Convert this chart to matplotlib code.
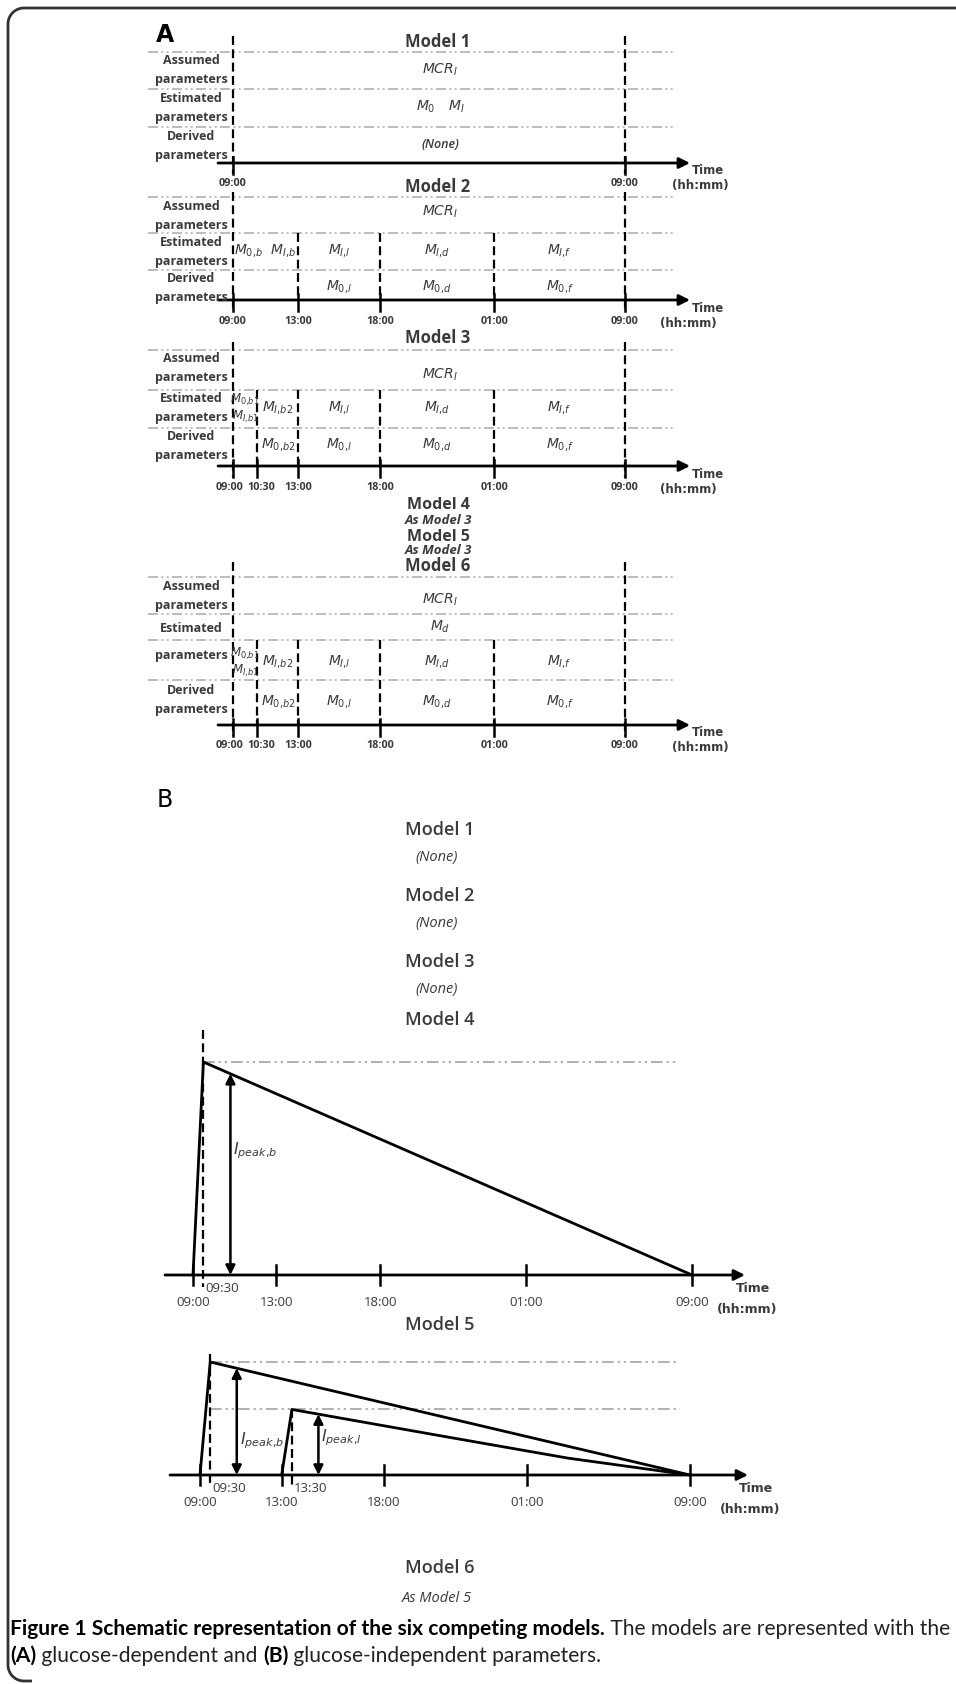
import numpy as np
import matplotlib.pyplot as plt

plt.rcParams['mathtext.fontset'] = 'dejavusans'

W, H = 956, 1684

# ---------------- data ----------------
# panel A: time axis (hours after 09:00) and labels
hoursA = [0, 1.5, 4, 9, 16, 24]
labelsA = ['09:00', '10:30', '13:00', '18:00', '01:00', '09:00']
model1_cuts = [0, 24]
model2_cuts = [0, 4, 9, 16, 24]
model3_cuts = [0, 1.5, 4, 9, 16, 24]

assumed_txt = r'$MCR_I$'
model1_est = r'$M_0\ \ \ M_I$'
model1_der = '(None)'
model2_est = [r'$M_{0{,}b}\ \ M_{I{,}b}$', r'$M_{I{,}l}$', r'$M_{I{,}d}$', r'$M_{I{,}f}$']
model2_der = ['', r'$M_{0{,}l}$', r'$M_{0{,}d}$', r'$M_{0{,}f}$']
model3_first = [r'$M_{0{,}b1}$', r'$M_{I{,}b1}$']
model3_est = [r'$M_{I{,}b2}$', r'$M_{I{,}l}$', r'$M_{I{,}d}$', r'$M_{I{,}f}$']
model3_der = [r'$M_{0{,}b2}$', r'$M_{0{,}l}$', r'$M_{0{,}d}$', r'$M_{0{,}f}$']
model6_extra = r'$M_d$'

# panel B: insulin profiles (relative to breakfast peak)
hoursB = [0, 4, 9, 16, 24]
labelsB = ['09:00', '13:00', '18:00', '01:00', '09:00']
model4_t = [0, 0.5, 24]
model4_i = [0, 1.0, 0]
model5_bt = [0, 0.5, 24]
model5_bi = [0, 1.0, 0]
model5_lt = [4, 4.5, 12, 18, 24]
model5_li = [0, 0.58, 0.34, 0.15, 0]
peak_b_time = 1.8
peak_l_time = 5.8

TXT = '#3a3a3a'
GRAY = '#b0b0b0'
DASH = (0, (4, 2))
DASHDOT = (0, (6, 2, 1.2, 2, 1.2, 2))

fig = plt.figure(figsize=(W / 100, H / 100), dpi=100)
ax = fig.add_axes([0, 0, 1, 1])
ax.set_xlim(0, W)
ax.set_ylim(H, 0)
ax.axis('off')

# frame: top and left edges with rounded corners
r = 16
a = np.linspace(np.pi / 2, np.pi, 20)
fx = np.concatenate([[W + 5], 8 + r + r * np.cos(a), 8 + r + r * np.cos(a[::-1]), [8 + r + 8]])
fy = np.concatenate([[8], 8 + r - r * np.sin(a), H - 3 - r + r * np.sin(a[::-1]), [H - 3]])
ax.plot(fx, fy, color='#333333', lw=2, clip_on=False, solid_capstyle='butt')


def arrow_axis(y, xa, xb, lw=2):
    ax.annotate('', xy=(xb, y), xytext=(xa, y),
                arrowprops=dict(arrowstyle='-|>', lw=lw, color='black',
                                mutation_scale=16, shrinkA=0, shrinkB=0))


def ptext(x, y, s, size=10, **kw):
    ax.text(x, y, s, fontsize=size, color=TXT, ha='center', va='center',
            style='italic', **kw)


def spread(xs, gap):
    # push neighbouring tick labels apart when they would touch
    xs = list(xs)
    for i in range(1, len(xs)):
        d = gap - (xs[i] - xs[i - 1])
        if d > 0:
            xs[i - 1] -= d / 2
            xs[i] += d / 2
    return xs


def panelA_block(title, ytitle, lines, yaxis, cuts, inner_top, ytop, hh_dx=0):
    x0, x1 = 233, 625
    sx = lambda h: x0 + (x1 - x0) * h / 24
    ax.text(438, ytitle, title, fontsize=12, fontweight='bold', color=TXT,
            ha='center', va='center', family='Open Sans')
    for y in lines:
        ax.plot([148, 676], [y, y], color=GRAY, lw=1.2, ls=DASHDOT)
    for h in [0, 24]:
        ax.plot([sx(h), sx(h)], [ytop, yaxis + 11], color='black', lw=1.6, ls=DASH)
    for h in cuts[1:-1]:
        ax.plot([sx(h), sx(h)], [inner_top, yaxis], color='black', lw=1.6, ls=DASH)
    lab_x = spread([sx(h) for h in cuts], 31)
    for h, lx in zip(cuts, lab_x):
        ax.plot([sx(h), sx(h)], [yaxis - 6, yaxis + 11], color='black', lw=1.8)
        ax.text(lx, yaxis + 21, labelsA[hoursA.index(h)], fontsize=7.8,
                fontweight='bold', color=TXT, ha='center', va='center',
                family='Open Sans')
    arrow_axis(yaxis, 218, 690)
    ax.text(708, yaxis + 8, 'Time', fontsize=8.5, fontweight='bold', color=TXT,
            ha='center', va='center')
    ax.text(700 + hh_dx, yaxis + 23, '(hh:mm)', fontsize=8.5, fontweight='bold',
            color=TXT, ha='center', va='center')
    return sx


def row_labels(pairs):
    for s, y in pairs:
        ax.text(191, y, s, fontsize=9, fontweight='bold', color=TXT,
                ha='center', va='center', family='Open Sans')


ax.text(165, 35, 'A', fontsize=17, fontweight='bold', ha='center', va='center')

# Model 1
sx = panelA_block('Model 1', 42, [52, 89, 127], 163, model1_cuts, 89, 36)
row_labels([('Assumed', 61), ('parameters', 80), ('Estimated', 98), ('parameters', 117),
            ('Derived', 136), ('parameters', 155)])
ptext(440, 70, assumed_txt)
ptext(440, 107, model1_est)
ptext(440, 145, model1_der, size=9, fontweight='semibold', family='Open Sans')

# Model 2
sx = panelA_block('Model 2', 187, [197, 233, 270], 300, model2_cuts, 233, 192, hh_dx=-12)
row_labels([('Assumed', 206), ('parameters', 225), ('Estimated', 242), ('parameters', 261),
            ('Derived', 279), ('parameters', 298)])
ptext(440, 212, assumed_txt)
for i in range(4):
    xm = sx((model2_cuts[i] + model2_cuts[i + 1]) / 2)
    ptext(xm, 251, model2_est[i])
    if model2_der[i]:
        ptext(xm, 287, model2_der[i])


def model3_rows(sx, yest, yder, yfirst):
    ptext(sx(0.75), yfirst[0], model3_first[0], size=8.5)
    ptext(sx(0.75), yfirst[1], model3_first[1], size=8.5)
    for i in range(4):
        xm = sx((model3_cuts[i + 1] + model3_cuts[i + 2]) / 2)
        ptext(xm, yest, model3_est[i])
        ptext(xm, yder, model3_der[i])


# Model 3
sx = panelA_block('Model 3', 338, [350, 390, 428], 466, model3_cuts, 390, 342, hh_dx=-12)
row_labels([('Assumed', 359), ('parameters', 378), ('Estimated', 399), ('parameters', 418),
            ('Derived', 437), ('parameters', 456)])
ptext(440, 375, assumed_txt)
model3_rows(sx, 408, 445, (400, 417))

for s, y, w in [('Model 4', 505, 'b'), ('As Model 3', 520, 'i'),
                ('Model 5', 537, 'b'), ('As Model 3', 551, 'i')]:
    if w == 'b':
        ax.text(438, y, s, fontsize=11.5, fontweight='bold', color=TXT, ha='center',
                va='center', family='Open Sans')
    else:
        ax.text(438, y, s, fontsize=9.5, fontweight='bold', style='italic', color=TXT,
                ha='center', va='center', family='Open Sans')

# Model 6
sx = panelA_block('Model 6', 566, [577, 614, 640, 680], 725, model3_cuts, 640, 562)
row_labels([('Assumed', 586), ('parameters', 605), ('Estimated', 628), ('parameters', 656),
            ('Derived', 690), ('parameters', 709)])
ptext(440, 600, assumed_txt)
ptext(440, 627, model6_extra)
model3_rows(sx, 661, 701, (654, 671))

# ---------------- panel B ----------------
ax.text(165, 800, 'B', fontsize=17, ha='center', va='center')
for s, y, w in [('Model 1', 830, 'b'), ('(None)', 858, 'i'), ('Model 2', 896, 'b'),
                ('(None)', 924, 'i'), ('Model 3', 962, 'b'), ('(None)', 990, 'i'),
                ('Model 4', 1020, 'b'), ('Model 5', 1325, 'b'), ('Model 6', 1568, 'b'),
                ('As Model 5', 1598, 'i')]:
    if w == 'b':
        ax.text(440, y, s, fontsize=13, fontweight='semibold', color=TXT, ha='center',
                va='center', family='Open Sans')
    else:
        ax.text(437, y, s, fontsize=10.5, style='italic', fontweight='medium', color=TXT,
                ha='center', va='center', family='Open Sans')


def panelB_block(yaxis, x0, x1, amp, xa, xb):
    sx = lambda h: x0 + (x1 - x0) * h / 24
    sy = lambda v: yaxis - amp * v
    arrow_axis(yaxis, xa, xb)
    for h, lab in zip(hoursB, labelsB):
        ax.plot([sx(h), sx(h)], [yaxis - 10, yaxis + 10], color='black', lw=1.8)
        ax.text(sx(h), yaxis + 27, lab, fontsize=9.5, color=TXT, ha='center',
                va='center', family='Open Sans')
    ax.text(xb + 8, yaxis + 13, 'Time', fontsize=9, fontweight='bold', color=TXT,
            ha='center', va='center')
    ax.text(xb + 2, yaxis + 34, '(hh:mm)', fontsize=9, fontweight='bold', color=TXT,
            ha='center', va='center')
    return sx, sy


def peak_arrow(sx, sy, t, t_curve, v_curve, label, yaxis, frac):
    # value of the decaying line at time t
    v = np.interp(t, t_curve, v_curve)
    ax.annotate('', xy=(sx(t), sy(v)), xytext=(sx(t), yaxis),
                arrowprops=dict(arrowstyle='<|-|>', lw=1.8, color='black',
                                mutation_scale=14, shrinkA=0, shrinkB=0))
    ax.text(sx(t) + 3, sy(v) + frac * (yaxis - sy(v)), label, fontsize=11.5,
            style='italic', color=TXT, ha='left', va='center')


def dashed_peak(sx, t, ytop, yaxis, lab):
    ax.plot([sx(t), sx(t)], [ytop, yaxis + 12], color='black', lw=1.6, ls=DASH)
    ax.text(sx(t) + 2, yaxis + 13, lab, fontsize=9.5, color=TXT, ha='left',
            va='center', family='Open Sans')


# Model 4
ya4 = 1275
sx, sy = panelB_block(ya4, 193, 692, 213, 165, 745)
ax.plot([sx(0.5), 676], [sy(1), sy(1)], color=GRAY, lw=1.4, ls=DASHDOT)
dashed_peak(sx, 0.5, sy(1) - 32, ya4, '09:30')
ax.plot([sx(t) for t in model4_t], [sy(v) for v in model4_i], color='black', lw=2)
peak_arrow(sx, sy, peak_b_time, model4_t, model4_i, r'$I_{peak{,}b}$', ya4, 0.38)

# Model 5
ya5 = 1475
sx, sy = panelB_block(ya5, 200, 690, 113, 170, 748)
ax.plot([sx(0.5), 676], [sy(1), sy(1)], color=GRAY, lw=1.4, ls=DASHDOT)
ax.plot([sx(0.5), 680], [sy(model5_li[1]), sy(model5_li[1])], color=GRAY, lw=1.4, ls=DASHDOT)
dashed_peak(sx, 0.5, sy(1) - 8, ya5, '09:30')
dashed_peak(sx, 4.5, sy(model5_li[1]), ya5, '13:30')
ax.plot([sx(t) for t in model5_bt], [sy(v) for v in model5_bi], color='black', lw=2)
ax.plot([sx(t) for t in model5_lt], [sy(v) for v in model5_li], color='black', lw=2)
peak_arrow(sx, sy, peak_b_time, model5_bt, model5_bi, r'$I_{peak{,}b}$', ya5, 0.68)
peak_arrow(sx, sy, peak_l_time, model5_lt, model5_li, r'$I_{peak{,}l}$', ya5, 0.38)

# ---------------- caption ----------------
renderer = fig.canvas.get_renderer()


def runs(x, y, parts, size):
    for s, w in parts:
        t = ax.text(x, y, s, fontsize=size, fontweight=w, family='Lato',
                    ha='left', va='center', color='black' if w == 'bold' else '#222222')
        x += t.get_window_extent(renderer=renderer).width
    return x


line1 = [('Figure 1 Schematic representation of the six competing models.', 'bold'),
         (' The models are represented with the', 'normal')]
line2 = [('(A)', 'bold'), (' glucose-dependent and ', 'normal'), ('(B)', 'bold'),
         (' glucose-independent parameters.', 'normal')]

size = 13
xend = runs(10, -100, line1, size)
for t in ax.texts[-2:]:
    t.remove()
size = size * (938 / (xend - 10))
runs(10, 1629, line1, size)
runs(10, 1656, line2, size)

fig.savefig('out.png', dpi=100)
